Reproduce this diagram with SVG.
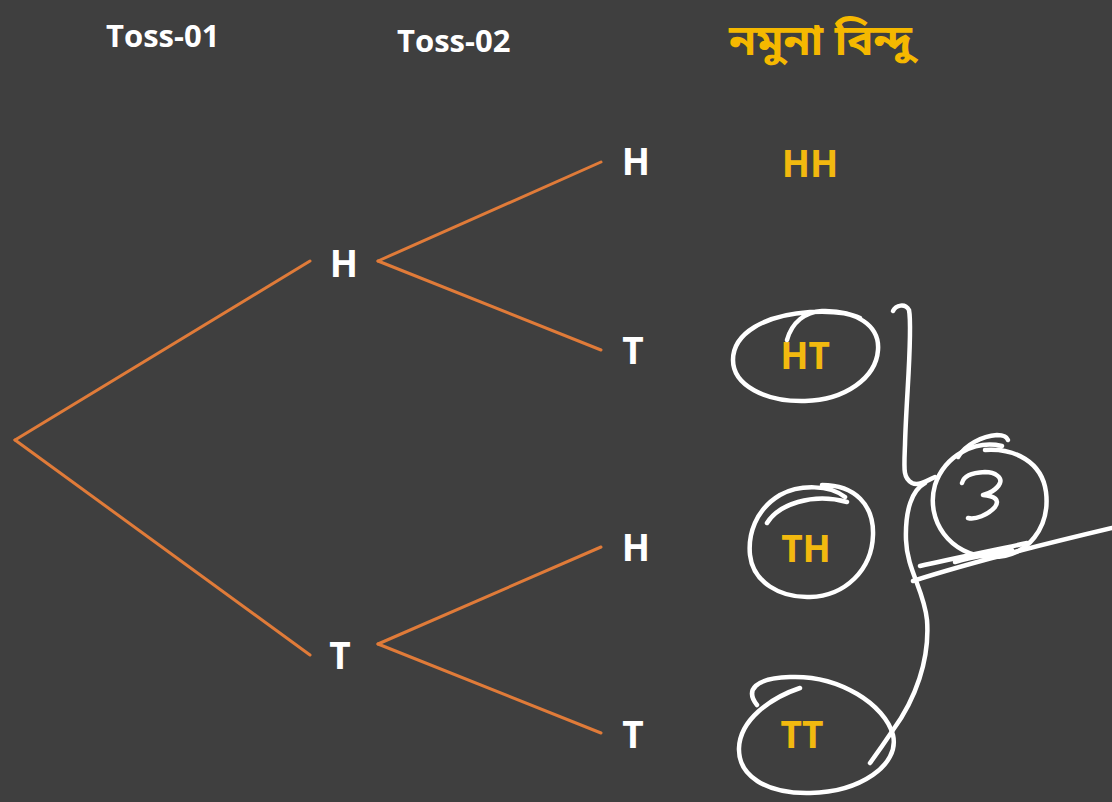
<svg xmlns="http://www.w3.org/2000/svg" width="1112" height="802" viewBox="0 0 1112 802">
  <style>
    .bg { fill: #3f3f3f; }
    .head { font-family: "Open Sans", "Liberation Sans", sans-serif; font-weight: 700; font-size: 31px; fill: #ffffff; }
    .bn { font-family: "Noto Sans Bengali", "Lohit Bengali", "Noto Sans", "FreeSans", sans-serif; font-weight: 700; font-size: 42px; fill: #f5b800; }
    .lbl { font-family: "Open Sans", "Liberation Sans", sans-serif; font-weight: 700; font-size: 37px; fill: #ffffff; text-anchor: middle; }
    .smp { font-family: "Open Sans", "Liberation Sans", sans-serif; font-weight: 700; font-size: 37px; fill: #f2b90f; text-anchor: middle; }
    .edge { stroke: #e07b39; stroke-width: 3; fill: none; stroke-linecap: round; }
    .ink { stroke: #ffffff; stroke-width: 4.5; fill: none; stroke-linecap: round; stroke-linejoin: round; }
  </style>

  <rect class="bg" x="0" y="0" width="1112" height="802"/>

  <!-- column headings -->
  <g id="headings">
    <text class="head" x="106" y="47">Toss-01</text>
    <text class="head" x="397" y="52">Toss-02</text>
    <text class="bn" x="729" y="55" textLength="183" lengthAdjust="spacingAndGlyphs">নমুনা বিন্দু</text>
  </g>

  <!-- tree branches -->
  <g id="connectors">
    <line class="edge" x1="15" y1="440" x2="310" y2="261"/>
    <line class="edge" x1="15" y1="440" x2="310" y2="655"/>
    <line class="edge" x1="378" y1="261" x2="601" y2="162"/>
    <line class="edge" x1="378" y1="261" x2="601" y2="350"/>
    <line class="edge" x1="378" y1="644" x2="601" y2="547"/>
    <line class="edge" x1="378" y1="644" x2="601" y2="733"/>
  </g>

  <!-- first toss outcomes -->
  <g id="node-h1"><text class="lbl" x="344" y="277">H</text></g>
  <g id="node-t1"><text class="lbl" x="340" y="669">T</text></g>

  <!-- second toss outcomes -->
  <g id="node-hh"><text class="lbl" x="636" y="175">H</text></g>
  <g id="node-ht"><text class="lbl" x="633" y="364">T</text></g>
  <g id="node-th"><text class="lbl" x="636" y="561">H</text></g>
  <g id="node-tt"><text class="lbl" x="633" y="748">T</text></g>

  <!-- sample points -->
  <g id="sample-hh"><text class="smp" x="810" y="177">HH</text></g>
  <g id="sample-ht"><text class="smp" x="805" y="369">HT</text></g>
  <g id="sample-th"><text class="smp" x="806" y="562">TH</text></g>
  <g id="sample-tt"><text class="smp" x="802" y="748">TT</text></g>

  <!-- hand-drawn annotations -->
  <g id="annotations">
    <path class="ink" d="M787,340 C792,322 805,312 822,311 C855,310 880,325 878,350 C876,378 845,400 805,401 C765,402 733,385 733,360 C733,333 765,315 810,312 C830,311 850,313 860,318"/>
    <path class="ink" d="M845,497 C830,485 800,484 780,495 C755,510 748,535 750,555 C753,582 780,598 810,597 C845,596 872,570 873,535 C874,505 855,485 822,485"/>
    <path class="ink" d="M767,523 C778,505 812,492 847,502"/>
    <path class="ink" d="M757,705 C745,690 755,678 790,677 C840,675 885,705 893,735 C900,765 860,792 810,793 C765,794 738,775 739,748 C740,720 770,698 800,688"/>
    <path class="ink" d="M893,311 C896,305 905,303 909,310 C913,330 906,400 905,445 C904,470 903,478 912,483 C918,486 925,482 935,477"/>
    <path class="ink" d="M925,483 C912,490 905,510 906,540 C907,570 924,590 927,620 C930,660 915,700 893,730 C885,742 878,752 870,763"/>
    <path class="ink" d="M1002,446 C975,440 945,455 935,485 C925,520 950,556 990,557 C1030,558 1050,525 1046,492 C1042,462 1015,448 985,450"/>
    <path class="ink" d="M958,457 C965,445 982,436 997,435 C1003,435 1007,437 1008,440"/>
    <path class="ink" d="M962,483 C964,476 970,473 985,472 C996,472 1002,478 1000,483 C997,490 988,494 983,495 C995,496 1000,500 995,507 C988,515 975,520 968,518"/>
    <path class="ink" d="M913,581 C960,566 1040,545 1112,528"/>
    <path class="ink" d="M920,566 C950,559 990,551 1027,543"/>
    <path class="ink" stroke-width="7" d="M955,562 C975,556 995,554 1012,550"/>
  </g>
</svg>
